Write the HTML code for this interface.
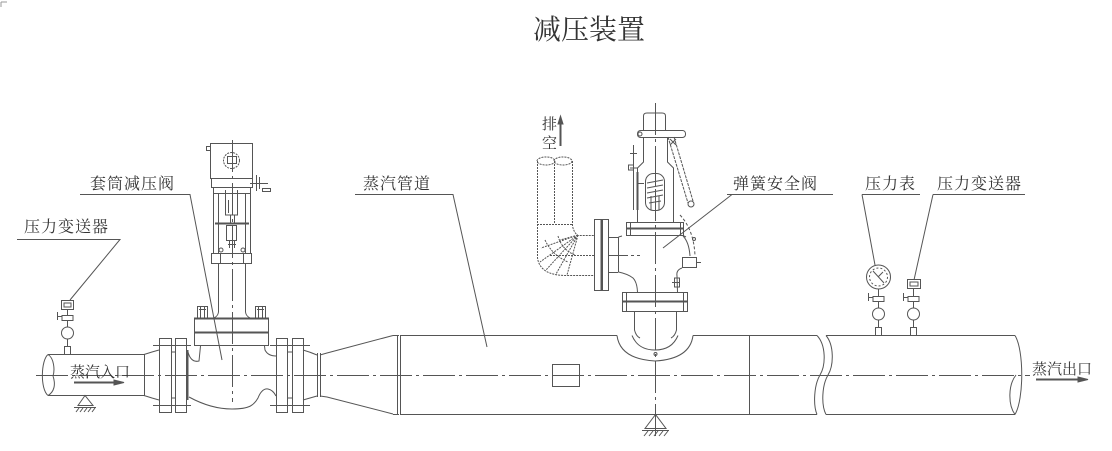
<!DOCTYPE html>
<html><head><meta charset="utf-8"><style>
html,body{margin:0;padding:0;background:#fff;}
svg{display:block}
text{font-family:"Liberation Serif","Noto Serif CJK SC",serif;fill:#333;}
</style></head><body>
<svg width="1112" height="451" viewBox="0 0 1112 451" xmlns="http://www.w3.org/2000/svg">
<g fill="none" stroke="#555" stroke-width="1">
<!-- corner mark -->
<path d="M1,2 H7 M1,2 V7" stroke="#999"/>
<!-- centerlines -->
<path d="M36,375.5 H1030" stroke-dasharray="32 4 3 4"/>
<path d="M232.5,140 V402" stroke-dasharray="32 4 3 4"/>
<path d="M655.5,103 V440" stroke-dasharray="32 4 3 4"/>

<!-- inlet pipe -->
<path d="M48,354.5 H144 M48,395.5 H144"/>
<path d="M48,354.5 C41,360 40,389 48,395.5"/>
<path d="M48,354.5 C54,358 55,370 53,376 M53,376 C56,385 54,392 48,395.5"/>
<path d="M144.5,354 V396"/>
<path d="M144,354.5 L152,352 L159,350 M144,395.5 L152,398 L159,400"/>
<!-- flange pair 1 -->
<rect x="159.5" y="338.5" width="12" height="74"/>
<rect x="175.5" y="338.5" width="11" height="74"/>
<path d="M171.5,338.5 V352 H175.5 M171.5,412 V398 H175.5"/>
<path d="M153,345.5 H191 M153,405.5 H191"/>
<path d="M187.5,350 V400" stroke-width="2"/>

<!-- valve body -->
<path d="M188,352 Q191,363 199,361 L200.5,346"/>
<path d="M264.5,346 L265,350 Q268,356 276,356"/>
<path d="M189,397 C200,403 215,409 232,409 C250,409 254,405 258,398 Q262,388 268,389 Q273,390 276,396"/>
<rect x="194.5" y="318.5" width="74" height="27"/>
<path d="M194,318.5 H269 M194,332.5 H269" stroke-width="2"/>
<path d="M197.5,306.5 h10 v12 h-10z M200.5,306.5 v12 M204.5,306.5 v12 M255.5,306.5 h10 v12 h-10z M258.5,306.5 v12 M262.5,306.5 v12"/>
<path d="M199,309.5 h7 M257,309.5 h7"/>
<!-- bonnet neck -->
<path d="M218.5,263 V312 Q218,316 214,318 M245.5,263 V312 Q246,316 250,318"/>
<!-- actuator -->
<rect x="210.5" y="143.5" width="42" height="35"/>
<path d="M206.5,146.5 h4 v4 h-4z"/>
<circle cx="231.5" cy="160.5" r="8" stroke-dasharray="2 1"/>
<rect x="227.5" y="156.5" width="9" height="7"/>
<rect x="211.5" y="178.5" width="41" height="9"/>
<path d="M213.5,188 V253 M218.5,193 V253 M245.5,193 V253 M250.5,188 V253"/>
<path d="M213,193.5 H251"/>
<path d="M225.5,190 V215 H237.5 V190 M228.5,200 V213"/>
<path d="M230.5,215 V223 M234.5,215 V223"/>
<path d="M215,223.5 H249" stroke-width="2"/>
<rect x="226.5" y="225.5" width="10" height="15"/>
<path d="M229.5,240 V248 M234.5,240 V248 M228,244.5 h8"/>
<circle cx="221" cy="250" r="2"/><circle cx="243" cy="250" r="2"/>
<rect x="211.5" y="253.5" width="40" height="10"/>
<path d="M220.5,253 V264 M243.5,253 V264"/>
<path d="M250,183.5 H268 M256.5,175 V191 M259.5,177 V189 M262.5,188.5 h8 v3 h-8z"/>
<!-- flange pair 2 -->
<rect x="276.5" y="338.5" width="11" height="74"/>
<rect x="292.5" y="338.5" width="11" height="74"/>
<path d="M287.5,338.5 V352 H292.5 M287.5,412 V398 H292.5"/>
<path d="M270,345.5 H310 M270,405.5 H310"/>
<path d="M303,350 Q310,352 317,355 M303,400 Q310,398 317,396"/>
<path d="M317.5,353 V397 M320.5,353 V397"/>
<!-- reducer -->
<path d="M320,355 L327,353 L393,335.5 M320,396 L327,397 L393,414"/>
<path d="M393,335.5 H399 M393,414.5 H399"/>

<!-- main pipe -->
<path d="M397.5,335 V415 M400.5,335 V415"/>
<path d="M400,335.5 H617 M693,335.5 H817 M400,414.5 H817"/>
<path d="M749.5,335 V415"/>
<rect x="552.5" y="364.5" width="27" height="22"/>
<!-- break -->
<path d="M817,335.5 C826,345 826,365 820,375 C814,385 813,405 817,414.5"/>
<path d="M826,335.5 C834,345 834,365 828,375 C822,385 821,405 826,414.5"/>
<!-- right pipe -->
<path d="M826,335.5 H1015 M826,414.5 H1015"/>
<path d="M1015,335.5 C1024,350 1024,399 1015,414.5"/>
<path d="M1016,375 C1008,385 1008,405 1015,414.5"/>

<!-- supports -->
<path d="M85,395.5 L78,405.5 H93 Z M74,407.5 H96 M76,412 l3,-4 M80,412 l3,-4 M84,412 l3,-4 M88,412 l3,-4 M92,412 l3,-4"/>
<path d="M655.5,414.5 L645,428.5 H666 Z M642,430.5 H669 M644,436 l4,-5 M649,436 l4,-5 M654,436 l4,-5 M659,436 l4,-5 M664,436 l4,-5"/>

<!-- safety valve tee saddle -->
<path d="M617,335.5 Q620,359 655,361 Q690,359 693,335.5"/>
<path d="M632,335.5 Q638,350 655,350 Q672,350 678,335.5"/>
<path d="M634.5,311 V330 Q636,336 640,338 M676.5,311 V330 Q675,336 671,338"/>
<circle cx="655.5" cy="354" r="1.5"/>
<!-- lower flange -->
<rect x="622.5" y="292.5" width="65" height="19"/>
<path d="M622,301.5 H688" stroke-width="2"/>
<path d="M626.5,292 V312 M683.5,292 V312"/>
<!-- body -->
<path d="M618.5,237 V272 Q628,274 633,278 Q637,282 637.5,292"/>
<path d="M608,237.5 H618 M608,272.5 H618"/>
<path d="M608,255.5 H640" stroke-dasharray="20 3 3 3"/>
<path d="M683,236 Q689,242 690,256"/>
<path d="M680,215 Q694,230 695,256" stroke-dasharray="3 2"/>
<rect x="682.5" y="257.5" width="14" height="10"/>
<path d="M697,262.5 h4"/>
<path d="M682,268 Q676,270 677,276 L677.5,292"/>
<path d="M674.5,278 v9 h5 v-9z M672,282.5 h8"/>
<circle cx="694" cy="239" r="1.5"/>
<!-- bonnet flange -->
<rect x="626.5" y="222.5" width="57" height="13"/>
<path d="M626,228.5 H684" stroke-width="2"/>
<path d="M630.5,222 V236 M680.5,222 V236"/>
<path d="M618.5,237 L622,236 M684,236 L686,237"/>
<!-- upper body -->
<path d="M637.5,222 V168 L643.5,162 V137 M673.5,222 V168 L667.5,162 V137"/>
<rect x="645.5" y="173.5" width="19" height="37" rx="8"/>
<path d="M647,183 L663,180 M647,188 L663,185 M647,193 L663,190 M647,198 L663,195 M649,203 L661,201"/>
<path d="M655.5,173 V186 M651,210 V196 M659,210 V196"/>
<path d="M637.5,172 V210" stroke-width="2"/>
<path d="M633.5,145 V210 M630,153.5 h7 M630,168 h8 M628.5,165 h5 v5 h-5z"/>
<path d="M638,183.5 h6"/>
<!-- cap and lever -->
<path d="M643.5,130 V116 Q643.5,113 647,113 H662 Q665.5,113 665.5,116 V130"/>
<rect x="637.5" y="130.5" width="48" height="7" rx="3"/>
<circle cx="640" cy="134" r="2"/>
<path d="M668,137 L688,203 M674,137 L693,201" stroke-dasharray="3 1"/>
<circle cx="691" cy="204" r="3"/>
<path d="M670,139 l6,6 M676,139 l-6,6"/>
<!-- side outlet flange -->
<rect x="594.5" y="219.5" width="7" height="71"/>
<rect x="602.5" y="219.5" width="6" height="71"/>
<path d="M601.5,220 V290" stroke-width="2"/>
<!-- exhaust elbow (dotted) -->
<g stroke-dasharray="2 1">
<path d="M537.5,161 V258 Q540,275 565,275.5 H594"/>
<path d="M572.5,161 V226 Q574,233 578,235.5 H594"/>
<path d="M554.5,161 V224"/>
<path d="M537,224.5 H572"/>
<ellipse cx="546" cy="161" rx="9" ry="4"/>
<ellipse cx="563" cy="161" rx="9" ry="4"/>
<path d="M578,235 L540,262 M578,235 L546,270 M578,235 L556,274 M578,235 L567,275 M578,235 L541,248 M578,235 L560,240"/>
<path d="M545,240 Q552,255 568,262 M558,236 Q562,250 575,255"/>
<path d="M550,255.5 H594"/>
</g>
<!-- exhaust arrow -->
<path d="M560.5,146 V120" stroke-width="2"/>
<path d="M560.5,116 L558,124 H563 Z" fill="#555"/>

<!-- left transmitter -->
<rect x="64.5" y="346.5" width="6" height="8"/>
<path d="M67.5,339 V347 M67.5,320 V327"/>
<circle cx="67.5" cy="333" r="6"/>
<path d="M62,315.5 h11 v5 h-11z M57.5,312 v8 M57,316.5 h5"/>
<path d="M67.5,310 V315"/>
<path d="M61.5,300.5 h12 v9 h-12z M64,303 h7 v4 h-7z"/>
<!-- right gauge -->
<rect x="875.5" y="327.5" width="6" height="8"/>
<path d="M878.5,320 V328 M878.5,302 V308"/>
<circle cx="878.5" cy="314" r="6"/>
<path d="M873,296.5 h11 v5 h-11z M868.5,293 v8 M868,297.5 h5 M878.5,289 V296"/>
<circle cx="878.5" cy="277" r="12"/>
<circle cx="878.5" cy="277" r="9" stroke-dasharray="2 2"/>
<path d="M873,271 L884,283 M878,277 l5,-5"/>
<!-- right transmitter -->
<rect x="910.5" y="327.5" width="6" height="8"/>
<path d="M913.5,320 V328 M913.5,302 V308"/>
<circle cx="913.5" cy="314" r="6"/>
<path d="M908,296.5 h11 v5 h-11z M903.5,293 v8 M903,297.5 h5 M913.5,288 V296"/>
<path d="M907.5,279.5 h13 v9 h-13z M910,282 h8 v4 h-8z"/>

<!-- leaders and underlines -->
<path d="M80,194.5 H190 L222,360"/>
<path d="M17,239.5 H120 L70,300"/>
<path d="M355,194.5 H453 L487,347"/>
<path d="M727,194.5 H833 M732,194.5 L663,248"/>
<path d="M862,194.5 H920 M862,194.5 L875,265"/>
<path d="M933,194.5 H1025 M933,194.5 L914,280"/>

<!-- flow arrows -->
<path d="M74,382.5 H118" stroke-width="2"/>
<path d="M124,382.5 L114,380 V385 Z" fill="#555"/>
<path d="M1036,379.5 H1081" stroke-width="2"/>
<path d="M1088,379.5 L1078,377 V382 Z" fill="#555"/>
</g>

<!-- texts -->
<text x="533" y="39" font-size="28">减压装置</text>
<text x="90" y="189" font-size="16" letter-spacing="1">套筒减压阀</text>
<text x="24" y="232" font-size="16" letter-spacing="1">压力变送器</text>
<text x="363" y="189" font-size="16" letter-spacing="1">蒸汽管道</text>
<text x="733" y="189" font-size="16" letter-spacing="1">弹簧安全阀</text>
<text x="865" y="189" font-size="16" letter-spacing="1">压力表</text>
<text x="937" y="189" font-size="16" letter-spacing="1">压力变送器</text>
<text x="70" y="377" font-size="15">蒸汽入口</text>
<text x="1032" y="374" font-size="15">蒸汽出口</text>
<text x="542" y="129" font-size="15">排</text>
<text x="542" y="148" font-size="15">空</text>
</svg>
</body></html>
